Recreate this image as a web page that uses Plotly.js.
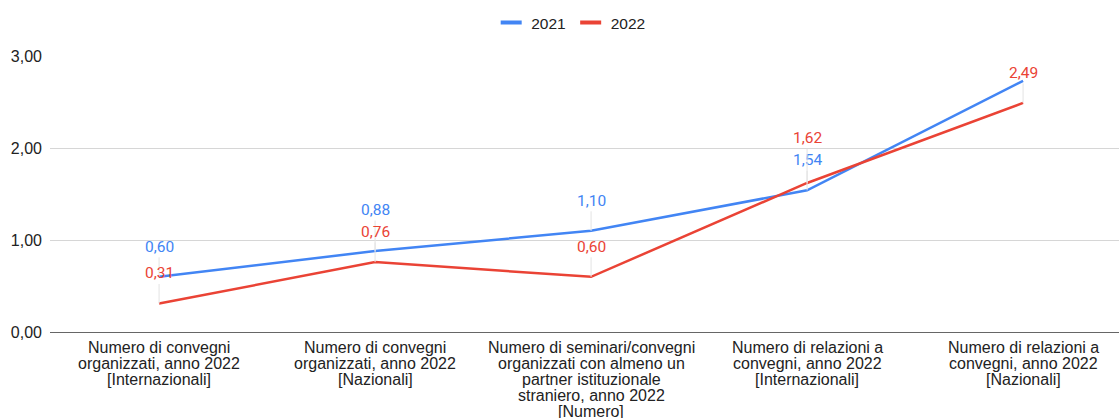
<!DOCTYPE html>
<html>
<head>
<meta charset="utf-8">
<script src="https://cdn.plot.ly/plotly-3.0.1.min.js"></script>
<style>html,body{margin:0;padding:0;background:#fff;}#chart{width:1119px;height:418px;}</style>
</head>
<body>
<div id="chart"></div>
<script>
// ---- data ----
const categoryLines = [
  ["Numero di convegni", "organizzati, anno 2022", "[Internazionali]"],
  ["Numero di convegni", "organizzati, anno 2022", "[Nazionali]"],
  ["Numero di seminari/convegni", "organizzati con almeno un", "partner istituzionale", "straniero, anno 2022", "[Numero]"],
  ["Numero di relazioni a", "convegni, anno 2022", "[Internazionali]"],
  ["Numero di relazioni a", "convegni, anno 2022", "[Nazionali]"]
];
const seriesNames = ["2021", "2022"];
const values2021 = [0.60, 0.88, 1.10, 1.54, 2.73];
const values2022 = [0.31, 0.76, 0.60, 1.62, 2.49];
const showLabel2021 = [true, true, true, true, false];
const showLabel2022 = [true, true, true, true, true];
const yTicks = [0, 1, 2, 3];

// ---- styles ----
const colors = ["#4285F4", "#EA4335"];
const axisFont = "Liberation Sans, Arial, sans-serif";
const labelFont = "Roboto, Arial, sans-serif";
const categories = categoryLines.map(l => l.join(" "));
const pxPerUnit = 92;      // plot height / y range (276 / 3)
const baseOffset = 30;     // label distance above point
const minGap = 22;         // minimum vertical gap between labels

function fmt(v) { return v.toFixed(2).replace(".", ","); }

const seriesVals = [values2021, values2022];
const seriesShow = [showLabel2021, showLabel2022];

const traces = [];
seriesVals.forEach((vals, s) => {
  traces.push({
    type: "scatter", mode: "lines", x: categories, y: vals,
    line: {color: colors[s], width: 2.5}, showlegend: false, hoverinfo: "skip", cliponaxis: false
  });
});
// legend-only traces (short line symbol)
seriesNames.forEach((n, s) => {
  traces.push({
    type: "scatter", mode: "markers", x: [null], y: [null], name: n,
    marker: {symbol: "line-ew-open", size: 15, color: colors[s], line: {color: colors[s], width: 4}},
    showlegend: true
  });
});

// label offsets with simple collision avoidance
const offsets = seriesVals.map(vals => vals.map(() => -baseOffset));
categories.forEach((c, i) => {
  if (!seriesShow[0][i] || !seriesShow[1][i]) return;
  const p0 = seriesVals[0][i] * pxPerUnit + baseOffset;
  const p1 = seriesVals[1][i] * pxPerUnit + baseOffset;
  if (Math.abs(p0 - p1) < minGap) {
    const hi = p0 >= p1 ? 0 : 1;
    const lo = 1 - hi;
    const target = seriesVals[lo][i] * pxPerUnit + baseOffset + minGap;
    offsets[hi][i] = -(target - seriesVals[hi][i] * pxPerUnit);
  }
});

const annotations = [];
seriesVals.forEach((vals, s) => {
  vals.forEach((v, i) => {
    if (!seriesShow[s][i]) return;
    annotations.push({
      x: categories[i], y: v, xref: "x", yref: "y", text: fmt(v),
      showarrow: true, arrowhead: 0, arrowwidth: 1, arrowcolor: "#e3e3e3",
      ax: 0, ay: offsets[s][i], standoff: 0, startstandoff: 0,
      font: {family: labelFont, size: 15.5, color: colors[s]}
    });
  });
});
// category labels, one annotation per line (tight line spacing)
categoryLines.forEach((lines, i) => {
  lines.forEach((t, k) => {
    annotations.push({
      x: categories[i], y: 0, xref: "x", yref: "paper", text: t, showarrow: false,
      xanchor: "center", yanchor: "middle", yshift: -(15 + 16 * k),
      font: {family: axisFont, size: 16, color: "#222222"}
    });
  });
});

const layout = {
  width: 1119, height: 418,
  margin: {l: 50, r: 0, t: 56, b: 86},
  paper_bgcolor: "#ffffff", plot_bgcolor: "#ffffff",
  separators: ",.",
  showlegend: true,
  legend: {
    orientation: "h", xref: "container", yref: "container",
    x: 0.51, xanchor: "center", y: 1 - 23 / 418, yanchor: "middle",
    font: {family: axisFont, size: 15.5, color: "#222222"},
    itemwidth: 30, tracegroupgap: 0
  },
  xaxis: {
    type: "category", range: [-0.505, 4.444], showgrid: false, zeroline: false,
    showline: false, showticklabels: false, ticks: "", fixedrange: true
  },
  yaxis: {
    range: [0, 3], tickvals: yTicks, tickformat: ".2f",
    showgrid: true, gridcolor: "#d6d6d6", gridwidth: 1,
    zeroline: true, zerolinecolor: "#666666", zerolinewidth: 1,
    showline: false, ticks: "", ticklabelstandoff: 7,
    tickfont: {family: axisFont, size: 16, color: "#222222"}, fixedrange: true
  },
  annotations: annotations
};

Plotly.newPlot("chart", traces, layout, {displayModeBar: false, staticPlot: true});
</script>
</body>
</html>
